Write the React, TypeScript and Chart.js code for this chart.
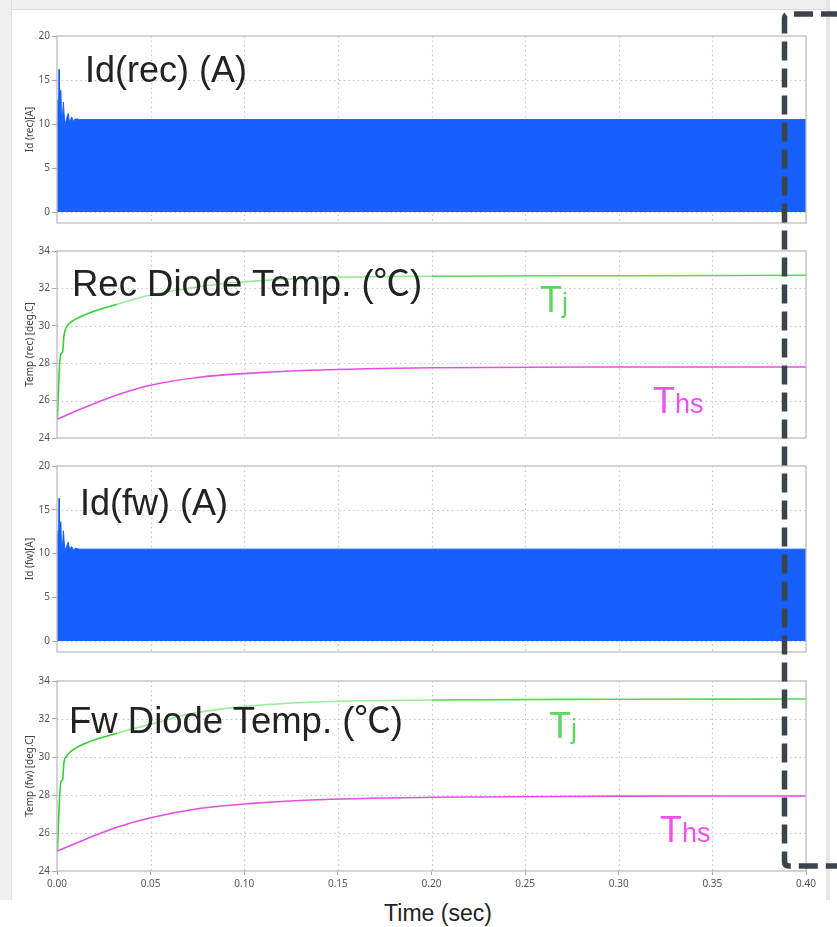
import React, { useEffect, useRef } from "react";
import { Chart, registerables } from "chart.js";

Chart.register(...registerables);

// ---------------- data ----------------
const timeTickValues = [0, 0.05, 0.1, 0.15, 0.2, 0.25, 0.3, 0.35, 0.4];
const currentTickValues = [0, 5, 10, 15, 20];
const tempTickValues = [24, 26, 28, 30, 32, 34];

// envelope of the switching diode current (peaks of the pulses), A
const idRecTime = [0, 0.0002, 0.0009, 0.0011, 0.0013, 0.0021, 0.0025, 0.0034, 0.0042, 0.0051, 0.006, 0.0068, 0.0078, 0.0088, 0.0098, 0.012, 0.4];
const idRecPeak = [0, 12.7, 12.7, 16.2, 13.8, 13.8, 9.4, 12.5, 9.8, 10.6, 11.2, 10.1, 10.8, 10.3, 10.6, 10.5, 10.5];
const idFwTime = [0, 0.0002, 0.0009, 0.0011, 0.0013, 0.0021, 0.0025, 0.0034, 0.0042, 0.0051, 0.006, 0.0068, 0.0078, 0.0088, 0.0098, 0.012, 0.4];
const idFwPeak = [0, 12.6, 12.6, 16.3, 13.6, 13.6, 9.2, 12.6, 10.3, 10.8, 11.3, 10.4, 10.8, 10.4, 10.6, 10.5, 10.5];

// junction temperature Tj, deg C
const tjTime = [0, 0.0002, 0.0012, 0.0021, 0.003, 0.0037, 0.0052, 0.0069, 0.014, 0.032, 0.05, 0.07, 0.094, 0.135, 0.2, 0.3, 0.4];
const tjRec = [25.0, 25.1, 27.6, 28.5, 28.6, 29.45, 29.95, 30.15, 30.55, 31.15, 31.65, 32.0, 32.3, 32.55, 32.65, 32.68, 32.7];
const tjFw = [25.0, 25.1, 27.5, 28.7, 28.8, 29.7, 30.05, 30.25, 30.67, 31.25, 31.72, 32.25, 32.6, 32.88, 33.0, 33.04, 33.05];

// heat-sink temperature Ths, deg C
const thsTime = [0, 0.014, 0.032, 0.05, 0.077, 0.104, 0.135, 0.2, 0.3, 0.4];
const thsRec = [25.0, 25.6, 26.3, 26.82, 27.26, 27.47, 27.62, 27.76, 27.8, 27.8];
const thsFw = [25.05, 25.62, 26.3, 26.8, 27.3, 27.56, 27.74, 27.88, 27.94, 27.95];

// ---------------- helpers ----------------
const zip = (xs: number[], ys: number[]) => xs.map((x, i) => ({ x, y: ys[i] }));

const BLUE = "#1660ff";
const GREEN = "#55d955";
const GREEN_DARK = "#36cf36";
const GREEN_LIGHT = "#9aec9a";
const MAGENTA = "#e64de6";

const framePlugin = {
  id: "frame",
  beforeDatasetsDraw(chart: any) {
    // dotted grid lines, placed through the scales
    const { ctx, chartArea, scales } = chart;
    const { left, top, right, bottom } = chartArea;
    ctx.save();
    ctx.strokeStyle = "#c2c2c2";
    ctx.lineWidth = 1.2;
    ctx.setLineDash([1.4, 3.3]);
    for (const t of scales.x.ticks) {
      const px = Math.round(scales.x.getPixelForValue(t.value)) + 0.5;
      if (px <= left + 2 || px >= right - 2) continue;
      ctx.beginPath();
      ctx.moveTo(px, top);
      ctx.lineTo(px, bottom);
      ctx.stroke();
    }
    for (const t of scales.y.ticks) {
      const py = Math.round(scales.y.getPixelForValue(t.value)) + 0.5;
      if (py <= top + 2 || py >= bottom - 2) continue;
      ctx.beginPath();
      ctx.moveTo(left, py);
      ctx.lineTo(right, py);
      ctx.stroke();
    }
    ctx.restore();
  },
  afterDatasetsDraw(chart: any) {
    const { ctx, chartArea } = chart;
    const { left, top, right, bottom } = chartArea;
    ctx.save();
    ctx.strokeStyle = "#bdbdbd";
    ctx.lineWidth = 1.3;
    ctx.strokeRect(left, top, right - left, bottom - top);
    ctx.restore();
  },
};

const currentDataset = (t: number[], v: number[]) => ({
  data: zip(t, v),
  borderColor: BLUE,
  backgroundColor: BLUE,
  borderWidth: 1,
  pointRadius: 0,
  fill: "origin",
  tension: 0,
});

const tjDataset = (t: number[], v: number[], darkUntil: number) => ({
  data: zip(t, v),
  borderColor: GREEN,
  borderWidth: 1.6,
  pointRadius: 0,
  fill: false,
  cubicInterpolationMode: "monotone",
  segment: {
    borderColor: (c: any) => {
      const x = c.p0.parsed.x;
      if (x < darkUntil) return GREEN_DARK;
      if (x < 0.19) return GREEN_LIGHT;
      return GREEN;
    },
  },
});

const thsDataset = (t: number[], v: number[]) => ({
  data: zip(t, v),
  borderColor: MAGENTA,
  borderWidth: 1.6,
  pointRadius: 0,
  fill: false,
  cubicInterpolationMode: "monotone",
});

type PanelProps = {
  top: number;
  bottom: number;
  yMin: number;
  yMax: number;
  yTicks: number[];
  yTitle: string;
  datasets: any[];
  showX: boolean;
};

const TICK_FONT = { family: "'Noto Sans', 'Open Sans', sans-serif", size: 10 };

function Panel({ top, bottom, yMin, yMax, yTicks, yTitle, datasets, showX }: PanelProps) {
  const ref = useRef<HTMLCanvasElement>(null);
  const padTop = 10;
  const xH = showX ? 29 : 6;
  const height = padTop + (bottom - top) + xH;

  useEffect(() => {
    const chart = new Chart(ref.current as HTMLCanvasElement, {
      type: "line",
      data: { datasets },
      options: {
        responsive: false,
        animation: false,
        events: [],
        layout: { padding: { left: 24, right: 31, top: padTop, bottom: 0 } },
        plugins: {
          legend: { display: false },
          tooltip: { enabled: false },
        },
        scales: {
          x: {
            type: "linear",
            min: 0,
            max: 0.4,
            afterBuildTicks: (s: any) => {
              s.ticks = timeTickValues.map((v) => ({ value: v }));
            },
            afterFit: (s: any) => {
              s.height = xH;
            },
            ticks: {
              display: showX,
              padding: 3,
              color: "#555",
              font: TICK_FONT,
              maxRotation: 0,
              autoSkip: false,
              callback: (v: any) => Number(v).toFixed(2),
            },
            grid: {
              drawOnChartArea: false,
              color: "#cccccc",
              lineWidth: 1,
              drawTicks: showX,
              tickLength: 4,
              tickColor: "#a8a8a8",
              tickBorderDash: [],
            },
            border: { display: false },
          },
          y: {
            type: "linear",
            min: yMin,
            max: yMax,
            afterBuildTicks: (s: any) => {
              s.ticks = yTicks.map((v) => ({ value: v }));
            },
            afterFit: (s: any) => {
              s.width = 33;
            },
            ticks: {
              padding: 2,
              color: "#555",
              font: TICK_FONT,
              autoSkip: false,
            },
            grid: {
              drawOnChartArea: false,
              color: "#cccccc",
              lineWidth: 1,
              drawTicks: true,
              tickLength: 5,
              tickColor: "#a8a8a8",
              tickBorderDash: [],
            },
            border: { display: false },
            title: {
              display: true,
              text: yTitle,
              color: "#444",
              font: { family: "'Noto Sans', 'Open Sans', sans-serif", size: 10 },
              padding: { top: 0, bottom: 0 },
            },
          },
        },
      } as any,
      plugins: [framePlugin],
    });
    return () => chart.destroy();
  }, []);

  return (
    <canvas
      ref={ref}
      width={837}
      height={height}
      style={{ position: "absolute", left: 0, top: top - padTop, width: 837, height, display: "block" }}
    />
  );
}

const SANS = "'Liberation Sans', Arial, Helvetica, sans-serif";

function Label({ x, baseline, size, color, children, center }: any) {
  return (
    <div
      style={{
        position: "absolute",
        left: center ? x - 200 : x,
        width: center ? 400 : undefined,
        textAlign: center ? "center" : "left",
        top: baseline - 0.8465 * size,
        fontFamily: SANS,
        fontSize: size,
        lineHeight: 1,
        color,
        whiteSpace: "nowrap",
      }}
    >
      {children}
    </div>
  );
}

const Deg = () => (
  <span style={{ fontFamily: "'Noto Sans CJK JP', 'DejaVu Sans', sans-serif", lineHeight: 0 }}>℃</span>
);

const Sub = ({ children }: any) => <span style={{ fontSize: 27 }}>{children}</span>;

export default function App() {
  return (
    <div
      style={{
        position: "absolute",
        left: 0,
        top: 0,
        width: 837,
        height: 927,
        background: "#ffffff",
        overflow: "hidden",
      }}
    >
      {/* window frame */}
      <div style={{ position: "absolute", left: 0, top: 0, width: 830, height: 9, background: "#efefef", borderBottom: "1px solid #dedede" }} />
      <div style={{ position: "absolute", left: 0, top: 0, width: 11, height: 900, background: "#efefef", borderRight: "1px solid #dedede" }} />
      <div style={{ position: "absolute", left: 826, top: 0, width: 4, height: 900, background: "#e6e6e6" }} />

      <Panel
        top={36}
        bottom={225}
        yMin={-1.25}
        yMax={20}
        yTicks={currentTickValues}
        yTitle="Id (rec)[A]"
        datasets={[currentDataset(idRecTime, idRecPeak)]}
        showX={false}
      />
      <Panel
        top={251}
        bottom={440}
        yMin={24}
        yMax={34}
        yTicks={tempTickValues}
        yTitle="Temp (rec) [deg.C]"
        datasets={[thsDataset(thsTime, thsRec), tjDataset(tjTime, tjRec, 0.03)]}
        showX={false}
      />
      <Panel
        top={466}
        bottom={654}
        yMin={-1.25}
        yMax={20}
        yTicks={currentTickValues}
        yTitle="Id (fw)[A]"
        datasets={[currentDataset(idFwTime, idFwPeak)]}
        showX={false}
      />
      <Panel
        top={681}
        bottom={871}
        yMin={24}
        yMax={34}
        yTicks={tempTickValues}
        yTitle="Temp (fw) [deg.C]"
        datasets={[thsDataset(thsTime, thsFw), tjDataset(tjTime, tjFw, 0.016)]}
        showX={true}
      />

      {/* annotations */}
      <Label x={85} baseline={82} size={36} color="#222">Id(rec) (A)</Label>
      <Label x={72} baseline={297} size={36.5} color="#222">Rec Diode Temp. (<Deg />)</Label>
      <Label x={540} baseline={312} size={36} color="#5cd65c">T<Sub>j</Sub></Label>
      <Label x={653} baseline={413} size={36} color="#f050f0">T<Sub>hs</Sub></Label>

      <Label x={80} baseline={515} size={36} color="#222">Id(fw) (A)</Label>
      <Label x={69} baseline={734} size={36.5} color="#222">Fw Diode Temp. (<Deg />)</Label>
      <Label x={549} baseline={738} size={36} color="#5cd65c">T<Sub>j</Sub></Label>
      <Label x={660} baseline={842} size={36} color="#f050f0">T<Sub>hs</Sub></Label>

      <Label x={438} baseline={921} size={23} color="#222" center>Time (sec)</Label>

      {/* dashed highlight box */}
      <svg
        width={837}
        height={927}
        style={{ position: "absolute", left: 0, top: 0, pointerEvents: "none" }}
      >
        <path
          d="M 840 14 H 789 Q 784.5 14 784.5 18.5 V 861.5 Q 784.5 866 789 866 H 840"
          fill="none"
          stroke="#3b434d"
          strokeWidth={5.5}
          strokeDasharray="19 8"
        />
      </svg>
    </div>
  );
}
